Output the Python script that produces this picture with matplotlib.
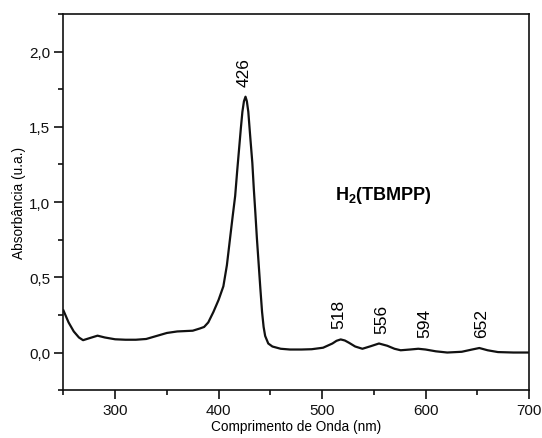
import matplotlib
matplotlib.use("Agg")
import matplotlib.pyplot as plt
from matplotlib.ticker import MultipleLocator, FuncFormatter

plt.rcParams['font.family'] = ['Liberation Sans', 'DejaVu Sans']
plt.rcParams['mathtext.fontset'] = 'custom'
plt.rcParams['mathtext.rm'] = 'Liberation Sans'
plt.rcParams['mathtext.bf'] = 'Liberation Sans:bold'

# UV-Vis spectrum of H2(TBMPP)
wavelength = [250, 255, 260, 265, 269, 275, 283, 290, 300, 310, 320, 330, 340, 350,
              360, 375, 382, 386, 390, 395, 400, 404.6, 408, 411, 413.5, 416, 418,
              420, 421.5, 423, 424.5, 426, 427.3, 428.7, 430.5, 432.6, 434, 435.5,
              437, 438.6, 440.3, 442, 443.5, 445, 448, 452, 460, 469, 480, 490, 501,
              510, 514, 518, 522, 526, 532, 539, 547, 555, 563, 570, 576, 585, 593,
              600, 610, 621, 635, 645, 652, 660, 670, 685, 700]
absorbance = [0.28, 0.20, 0.14, 0.10, 0.082, 0.095, 0.112, 0.10, 0.088, 0.085,
              0.085, 0.09, 0.11, 0.13, 0.14, 0.145, 0.16, 0.17, 0.20, 0.27, 0.35,
              0.44, 0.58, 0.755, 0.90, 1.04, 1.21, 1.37, 1.49, 1.60, 1.67, 1.70,
              1.67, 1.60, 1.44, 1.26, 1.09, 0.93, 0.76, 0.60, 0.43, 0.27, 0.17,
              0.11, 0.06, 0.04, 0.025, 0.02, 0.02, 0.022, 0.032, 0.06, 0.078,
              0.087, 0.08, 0.065, 0.04, 0.025, 0.042, 0.06, 0.045, 0.025, 0.015,
              0.02, 0.025, 0.02, 0.008, 0.0, 0.005, 0.02, 0.03, 0.015, 0.003, 0.0,
              0.0]

peak_labels = [426, 518, 556, 594, 652]
label_x = [425, 516, 558, 599, 654]
label_y = [1.77, 0.165, 0.13, 0.10, 0.10]

fig = plt.figure(figsize=(5.42, 4.39), dpi=100)
ax = fig.add_axes([0.117, 0.109, 0.859, 0.857])

ax.plot(wavelength, absorbance, color='#111111', linewidth=1.6,
        solid_joinstyle='round')

ax.set_xlim(250, 700)
ax.set_ylim(-0.25, 2.25)
ax.xaxis.set_major_locator(MultipleLocator(100))
ax.xaxis.set_minor_locator(MultipleLocator(50))
ax.yaxis.set_major_locator(MultipleLocator(0.5))
ax.yaxis.set_minor_locator(MultipleLocator(0.25))
ax.yaxis.set_major_formatter(FuncFormatter(lambda v, p: f"{v:.1f}".replace('.', ',')))
ax.xaxis.set_major_formatter(FuncFormatter(lambda v, p: f"{v:.0f}"))

ax.tick_params(which='both', direction='out', top=False, right=False,
               width=1.2, labelsize=11, colors='#111111', pad=3)
ax.tick_params(which='major', length=6.5)
ax.tick_params(which='minor', length=3.6)
for s in ax.spines.values():
    s.set_linewidth(1.2)
    s.set_color('#111111')

ax.set_xlabel('Comprimento de Onda (nm)', fontsize=9.8, labelpad=1)
ax.set_ylabel('Absorbância (u.a.)', fontsize=9.8, labelpad=2)

for lab, lx, ly in zip(peak_labels, label_x, label_y):
    ax.text(lx, ly, str(lab), rotation=90, ha='center', va='bottom', fontsize=12.5)

ax.text(559, 1.05, r'$\mathbf{H_2(TBMPP)}$', ha='center', va='center',
        fontsize=13)

fig.savefig('out.png', dpi=100)
